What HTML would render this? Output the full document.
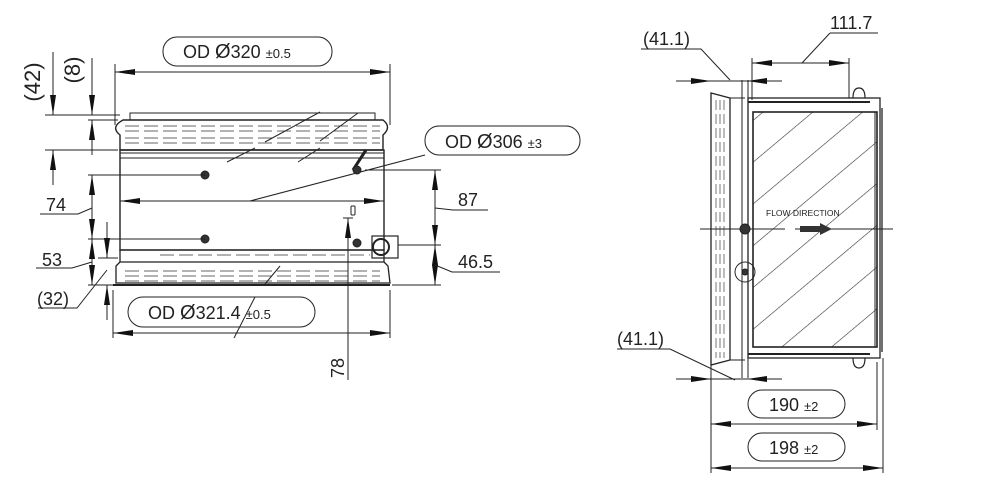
<!DOCTYPE html>
<html><head><meta charset="utf-8"><style>
html,body{margin:0;padding:0;background:#fff;width:1000px;height:491px;overflow:hidden}
svg{display:block}
text{font-family:"Liberation Sans",sans-serif;fill:#222}
</style></head><body>
<svg width="1000" height="491" viewBox="0 0 1000 491" xmlns="http://www.w3.org/2000/svg">
<defs>
<marker id="a" viewBox="0 0 20 6" refX="20" refY="3" markerWidth="20" markerHeight="6" markerUnits="userSpaceOnUse" orient="auto-start-reverse"><path d="M0,0 L20,3 L0,6z" fill="#111"/></marker>
<pattern id="h" patternUnits="userSpaceOnUse" width="32" height="32" patternTransform="rotate(50)"><line x1="0" y1="0" x2="0" y2="32" stroke="#333" stroke-width="1.2"/></pattern>
</defs>
<g stroke="#222" fill="none" stroke-width="1">
<line x1="115" y1="64" x2="115" y2="125"/><line x1="390" y1="64" x2="390" y2="125"/>
<line x1="115" y1="72" x2="390" y2="72" marker-start="url(#a)" marker-end="url(#a)"/>
<rect x="163" y="37" width="169" height="29" rx="14"/>
<rect x="130" y="113" width="245" height="7"/>
<path d="M123,120 L383,120 Q392,127 383,135 L383,150 L120,150 L120,135 Q110,127 123,120z" stroke-width="1.4"/>
<g stroke-dasharray="14,5" stroke="#666"><line x1="125" y1="126" x2="380" y2="126"/><line x1="125" y1="131" x2="380" y2="131"/><line x1="125" y1="138" x2="380" y2="138"/><line x1="125" y1="143" x2="380" y2="143"/></g>
<rect x="120" y="150" width="264" height="100" stroke-width="1.4"/>
<line x1="120" y1="153" x2="384" y2="153"/><line x1="120" y1="158" x2="384" y2="158"/>
<path d="M120,250 L384,250 L384,262 L120,262z M120,262 L116,266 L116,283 L390,283 L388,266 L384,262" stroke-width="1.3"/>
<line x1="113" y1="285" x2="390" y2="285" stroke-width="2"/>
<g stroke-dasharray="14,5" stroke="#666"><line x1="125" y1="271" x2="380" y2="271"/><line x1="125" y1="276" x2="380" y2="276"/><line x1="125" y1="281" x2="380" y2="281"/><line x1="160" y1="255" x2="370" y2="255"/></g>
<line x1="265" y1="142" x2="320" y2="112"/><line x1="320" y1="141" x2="358" y2="113"/><line x1="227" y1="162" x2="255" y2="148"/><line x1="298" y1="162" x2="320" y2="148"/><line x1="353" y1="170" x2="366" y2="150" stroke-width="3"/>
<line x1="265" y1="284" x2="280" y2="266"/><line x1="234" y1="338" x2="255" y2="297"/>
<line x1="120" y1="201" x2="384" y2="201" marker-start="url(#a)" marker-end="url(#a)"/>
<line x1="250" y1="201" x2="425" y2="155"/>
<rect x="425" y="126" width="155" height="29" rx="14"/>
<g fill="#333"><circle cx="205" cy="175" r="4"/><circle cx="205" cy="239" r="4"/><circle cx="357" cy="170" r="4"/><circle cx="357" cy="243" r="4"/></g>
<rect x="351" y="206" width="4" height="9" rx="1"/>
<rect x="372" y="236" width="26" height="22" stroke-width="1.2"/><circle cx="381" cy="247" r="8" stroke-width="2"/>
<line x1="113" y1="290" x2="113" y2="338"/><line x1="390" y1="290" x2="390" y2="338"/>
<line x1="113" y1="333" x2="390" y2="333" marker-start="url(#a)" marker-end="url(#a)"/>
<rect x="128" y="297" width="187" height="30" rx="15"/>
<line x1="348" y1="218" x2="348" y2="380" marker-start="url(#a)"/><line x1="343" y1="218" x2="353" y2="218"/>
<line x1="45" y1="115" x2="120" y2="115"/><line x1="88" y1="120" x2="118" y2="120"/><line x1="45" y1="150" x2="118" y2="150"/>
<line x1="53" y1="52" x2="53" y2="115" marker-end="url(#a)"/><line x1="53" y1="185" x2="53" y2="150" marker-end="url(#a)"/>
<line x1="92" y1="58" x2="92" y2="115" marker-end="url(#a)"/><line x1="92" y1="155" x2="92" y2="120" marker-end="url(#a)"/>
<line x1="88" y1="175" x2="205" y2="175"/><line x1="88" y1="239" x2="205" y2="239"/>
<line x1="92" y1="175" x2="92" y2="239" marker-start="url(#a)" marker-end="url(#a)"/>
<line x1="92" y1="239" x2="92" y2="285" marker-start="url(#a)" marker-end="url(#a)"/>
<line x1="88" y1="285" x2="113" y2="285"/><line x1="98" y1="258" x2="118" y2="258"/>
<line x1="107" y1="222" x2="107" y2="258" marker-end="url(#a)"/><line x1="107" y1="320" x2="107" y2="285" marker-end="url(#a)"/>
<polyline points="40,214 78,214 92,208"/><polyline points="36,268 72,268 92,262"/><polyline points="38,308 77,308 107,270"/>
<line x1="365" y1="170" x2="441" y2="170"/><line x1="398" y1="245" x2="441" y2="245"/><line x1="392" y1="285" x2="441" y2="285"/>
<line x1="435" y1="170" x2="435" y2="245" marker-start="url(#a)" marker-end="url(#a)"/>
<line x1="435" y1="245" x2="435" y2="285" marker-start="url(#a)" marker-end="url(#a)"/>
<polyline points="435,208 453,210 488,210"/><polyline points="435,265 452,272 500,272"/>

<polyline points="641,49 701,49 730,80"/><polyline points="830,33 878,33"/><line x1="802" y1="63" x2="830" y2="33"/>
<line x1="676" y1="81" x2="782" y2="81"/><line x1="690" y1="81" x2="711" y2="81" marker-end="url(#a)"/><line x1="770" y1="81" x2="747" y2="81" marker-end="url(#a)"/>
<line x1="752" y1="63" x2="849" y2="63" marker-start="url(#a)" marker-end="url(#a)"/><line x1="752" y1="58" x2="752" y2="100"/><line x1="849" y1="58" x2="849" y2="98"/>
<path d="M711,93 L730,98 L730,360 L711,365z" stroke-width="1.3"/>
<g stroke="#777" stroke-dasharray="10,4"><line x1="716" y1="100" x2="716" y2="358"/><line x1="720" y1="100" x2="720" y2="358"/><line x1="724" y1="100" x2="724" y2="358"/></g>
<line x1="730" y1="98" x2="745" y2="98"/><line x1="730" y1="360" x2="745" y2="360"/>
<line x1="742" y1="80" x2="742" y2="378"/><line x1="748" y1="80" x2="748" y2="378"/>
<rect x="748" y="98" width="132" height="260" stroke-width="1.3"/>
<rect x="753" y="112" width="124" height="235" fill="url(#h)" stroke="none"/>
<rect x="753" y="112" width="124" height="235" stroke-width="1.6"/>
<line x1="748" y1="102" x2="870" y2="102" stroke-width="2"/><line x1="748" y1="354" x2="870" y2="354" stroke-width="2"/>
<line x1="875" y1="112" x2="875" y2="347"/><line x1="882" y1="108" x2="882" y2="352" stroke-width="1.3"/>
<path d="M853,98 Q853,88 859,88 Q865,88 865,98" stroke-width="1.2"/>
<path d="M853,358 Q853,368 859,368 Q865,368 865,358" stroke-width="1.2"/>
<line x1="700" y1="229" x2="785" y2="229"/><line x1="795" y1="229" x2="893" y2="229"/>
<circle cx="745" cy="229" r="5" fill="#333"/><circle cx="745" cy="272" r="10"/><circle cx="745" cy="272" r="3" fill="#333"/>
<path d="M800,226 L820,226 L820,223 L832,229 L820,235 L820,232 L800,232z" fill="#333" stroke="none"/>
<polyline points="617,349 670,349 735,380"/>
<line x1="676" y1="379" x2="782" y2="379"/><line x1="690" y1="379" x2="711" y2="379" marker-end="url(#a)"/><line x1="770" y1="379" x2="747" y2="379" marker-end="url(#a)"/>
<line x1="711" y1="365" x2="711" y2="473"/><line x1="877" y1="362" x2="877" y2="430"/><line x1="883" y1="358" x2="883" y2="473"/>
<rect x="748" y="390" width="97" height="28" rx="14"/>
<line x1="711" y1="424" x2="877" y2="424" marker-start="url(#a)" marker-end="url(#a)"/>
<rect x="748" y="433" width="97" height="28" rx="14"/>
<line x1="711" y1="468" x2="883" y2="468" marker-start="url(#a)" marker-end="url(#a)"/>
</g>
<g font-size="22" fill="#222">
<text x="40" y="82" transform="rotate(-90 40 82)" text-anchor="middle">(42)</text>
<text x="80" y="70" transform="rotate(-90 80 70)" text-anchor="middle">(8)</text>
</g>
<g font-size="18">
<text x="183" y="58">OD <tspan font-size="20">Ø</tspan>320 <tspan font-size="13">±0.5</tspan></text>
<text x="445" y="148">OD <tspan font-size="20">Ø</tspan>306 <tspan font-size="13">±3</tspan></text>
<text x="148" y="319">OD <tspan font-size="20">Ø</tspan>321.4 <tspan font-size="13">±0.5</tspan></text>
<text x="46" y="211">74</text>
<text x="42" y="266">53</text>
<text x="37" y="305">(32)</text>
<text x="458" y="206">87</text>
<text x="458" y="268">46.5</text>
<text x="344" y="378" transform="rotate(-90 344 378)">78</text>
<text x="643" y="45">(41.1)</text>
<text x="830" y="29">111.7</text>
<text x="617" y="345">(41.1)</text>
<text x="769" y="411">190 <tspan font-size="13">±2</tspan></text>
<text x="769" y="454">198 <tspan font-size="13">±2</tspan></text>
</g>
<text x="766" y="216" font-size="8.5" fill="#333">FLOW DIRECTION</text>
</svg>
</body></html>
